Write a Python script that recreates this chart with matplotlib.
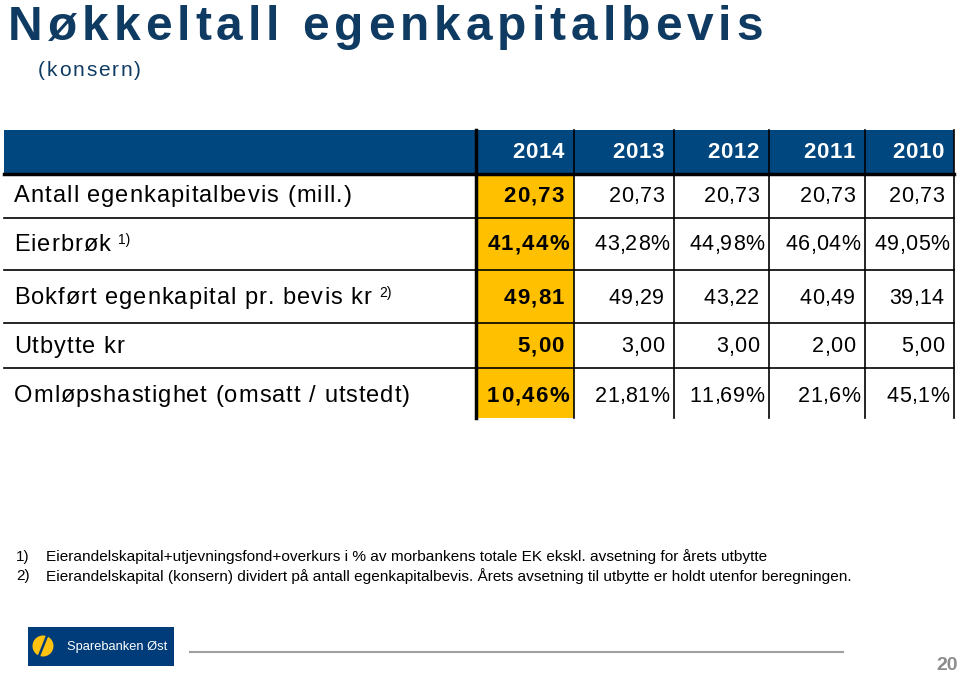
import matplotlib.pyplot as plt
from matplotlib.patches import Rectangle, Circle
from matplotlib.font_manager import FontProperties

plt.rcParams['font.family'] = ['Liberation Sans', 'DejaVu Sans']

TITLE = "Nøkkeltall egenkapitalbevis"
SUBTITLE = "(konsern)"

years = ["2014", "2013", "2012", "2011", "2010"]
row_labels = [
    "Antall egenkapitalbevis (mill.)",
    "Eierbrøk",
    "Bokført egenkapital pr. bevis kr",
    "Utbytte kr",
    "Omløpshastighet (omsatt / utstedt)",
]
row_notes = ["", "1)", "2)", "", ""]

antall = ["20,73", "20,73", "20,73", "20,73", "20,73"]
eierbrok = ["41,44%", "43,28%", "44,98%", "46,04%", "49,05%"]
bokfort = ["49,81", "49,29", "43,22", "40,49", "39,14"]
utbytte = ["5,00", "3,00", "3,00", "2,00", "5,00"]
omlop = ["10,46%", "21,81%", "11,69%", "21,6%", "45,1%"]
table_values = [antall, eierbrok, bokfort, utbytte, omlop]

footnotes = [
    ("1)", "Eierandelskapital+utjevningsfond+overkurs i % av morbankens totale EK ekskl. avsetning for årets utbytte"),
    ("2)", "Eierandelskapital (konsern) dividert på antall egenkapitalbevis. Årets avsetning til utbytte er holdt utenfor beregningen."),
]

BLUE = "#00477f"
YELLOW = "#ffc000"
TITLE_BLUE = "#0f3b63"

# layout in pixel units
col_edges = [476, 574, 674, 769, 865, 954]
row_edges = [174, 218, 270, 323, 368, 418]
row_y = [196, 245, 298, 347, 396]
header_top = 130
table_left = 4

fig = plt.figure(figsize=(9.6, 6.74), dpi=100)
ax = fig.add_axes([0, 0, 1, 1])
ax.set_xlim(0, 960)
ax.set_ylim(674, 0)
ax.axis('off')
renderer = fig.canvas.get_renderer()


def char_widths(s, size, weight):
    prop = FontProperties(family='Liberation Sans', size=size, weight=weight)
    return [renderer.get_text_width_height_descent(c, prop, ismath=False)[0] for c in s]


def spaced_text(x, y, s, size, track=0.0, width=None, ha='left', va='center',
                weight='normal', **kw):
    # draw text char by char so the wide letter spacing of the slide can be copied
    w = char_widths(s, size, weight)
    if width is not None:
        track = (width - sum(w)) / (len(s) - 1)
    total = sum(w) + track * (len(s) - 1)
    if ha == 'right':
        x = x - total
    for c, cw in zip(s, w):
        ax.text(x, y, c, fontsize=size, fontweight=weight, ha='left', va=va, **kw)
        x += cw + track
    return x - track


# title
spaced_text(8, 40, TITLE, 34.5, width=755, va='baseline', weight='bold', color=TITLE_BLUE)
spaced_text(38, 76, SUBTITLE, 15, width=103, va='baseline', color=TITLE_BLUE)

# header bar
ax.add_patch(Rectangle((table_left, header_top), col_edges[-1] - table_left,
                       row_edges[0] - header_top, color=BLUE, lw=0))
# highlighted column
ax.add_patch(Rectangle((col_edges[0], row_edges[0]), col_edges[1] - col_edges[0],
                       row_edges[-1] - row_edges[0], color=YELLOW, lw=0))

# horizontal lines
ax.plot([table_left, col_edges[-1]], [row_edges[0], row_edges[0]], color='black', lw=2.5)
for y in row_edges[1:-1]:
    ax.plot([table_left, col_edges[-1]], [y, y], color='black', lw=1.2)

# vertical lines
ax.plot([col_edges[0], col_edges[0]], [header_top, row_edges[-1]], color='black', lw=2.5)
for x in col_edges[1:]:
    ax.plot([x, x], [header_top, row_edges[-1]], color='black', lw=1.2)

# header text
for j, yr in enumerate(years):
    spaced_text(col_edges[j + 1] - 10, 152, yr, 16, track=0.8, ha='right',
                weight='bold', color='white')

# rows
for i, label in enumerate(row_labels):
    yc = row_y[i]
    x_end = spaced_text(14, yc, label, 17, track=1.0, color='black')
    if row_notes[i]:
        ax.text(x_end + 8, yc - 5, row_notes[i], fontsize=10, ha='left', va='center')
    for j, val in enumerate(table_values[i]):
        right = col_edges[j + 1] - 10 + (5 if val.endswith('%') else 0)
        if j == 0:
            spaced_text(right, yc, val, 16, track=1.3, ha='right', weight='bold', color='black')
        else:
            spaced_text(right, yc, val, 15.5, track=0.4, ha='right', color='black')

# footnotes
for k, (num, txt) in enumerate(footnotes):
    y = 557 + k * 19
    ax.text(16, y, num, fontsize=11, ha='left', va='center')
    ax.text(46, y, txt, fontsize=11.1, ha='left', va='center')

# logo
ax.add_patch(Rectangle((28, 627), 146, 39, color="#003b7a", lw=0))
ax.add_patch(Circle((43, 646), 10.5, color="#ffc20e", lw=0))
ax.plot([39, 47], [656, 636], color="#003b7a", lw=1.8)
ax.text(67, 647, "Sparebanken Øst", fontsize=9.3, color='white', ha='left', va='center')

# footer line and page number
ax.plot([190, 843], [652, 652], color='#a0a0a0', lw=1.5)
ax.text(958, 666, "20", fontsize=14, fontweight='bold', color='#8c8c8c', ha='right', va='center')

fig.savefig("out.png", dpi=100)
